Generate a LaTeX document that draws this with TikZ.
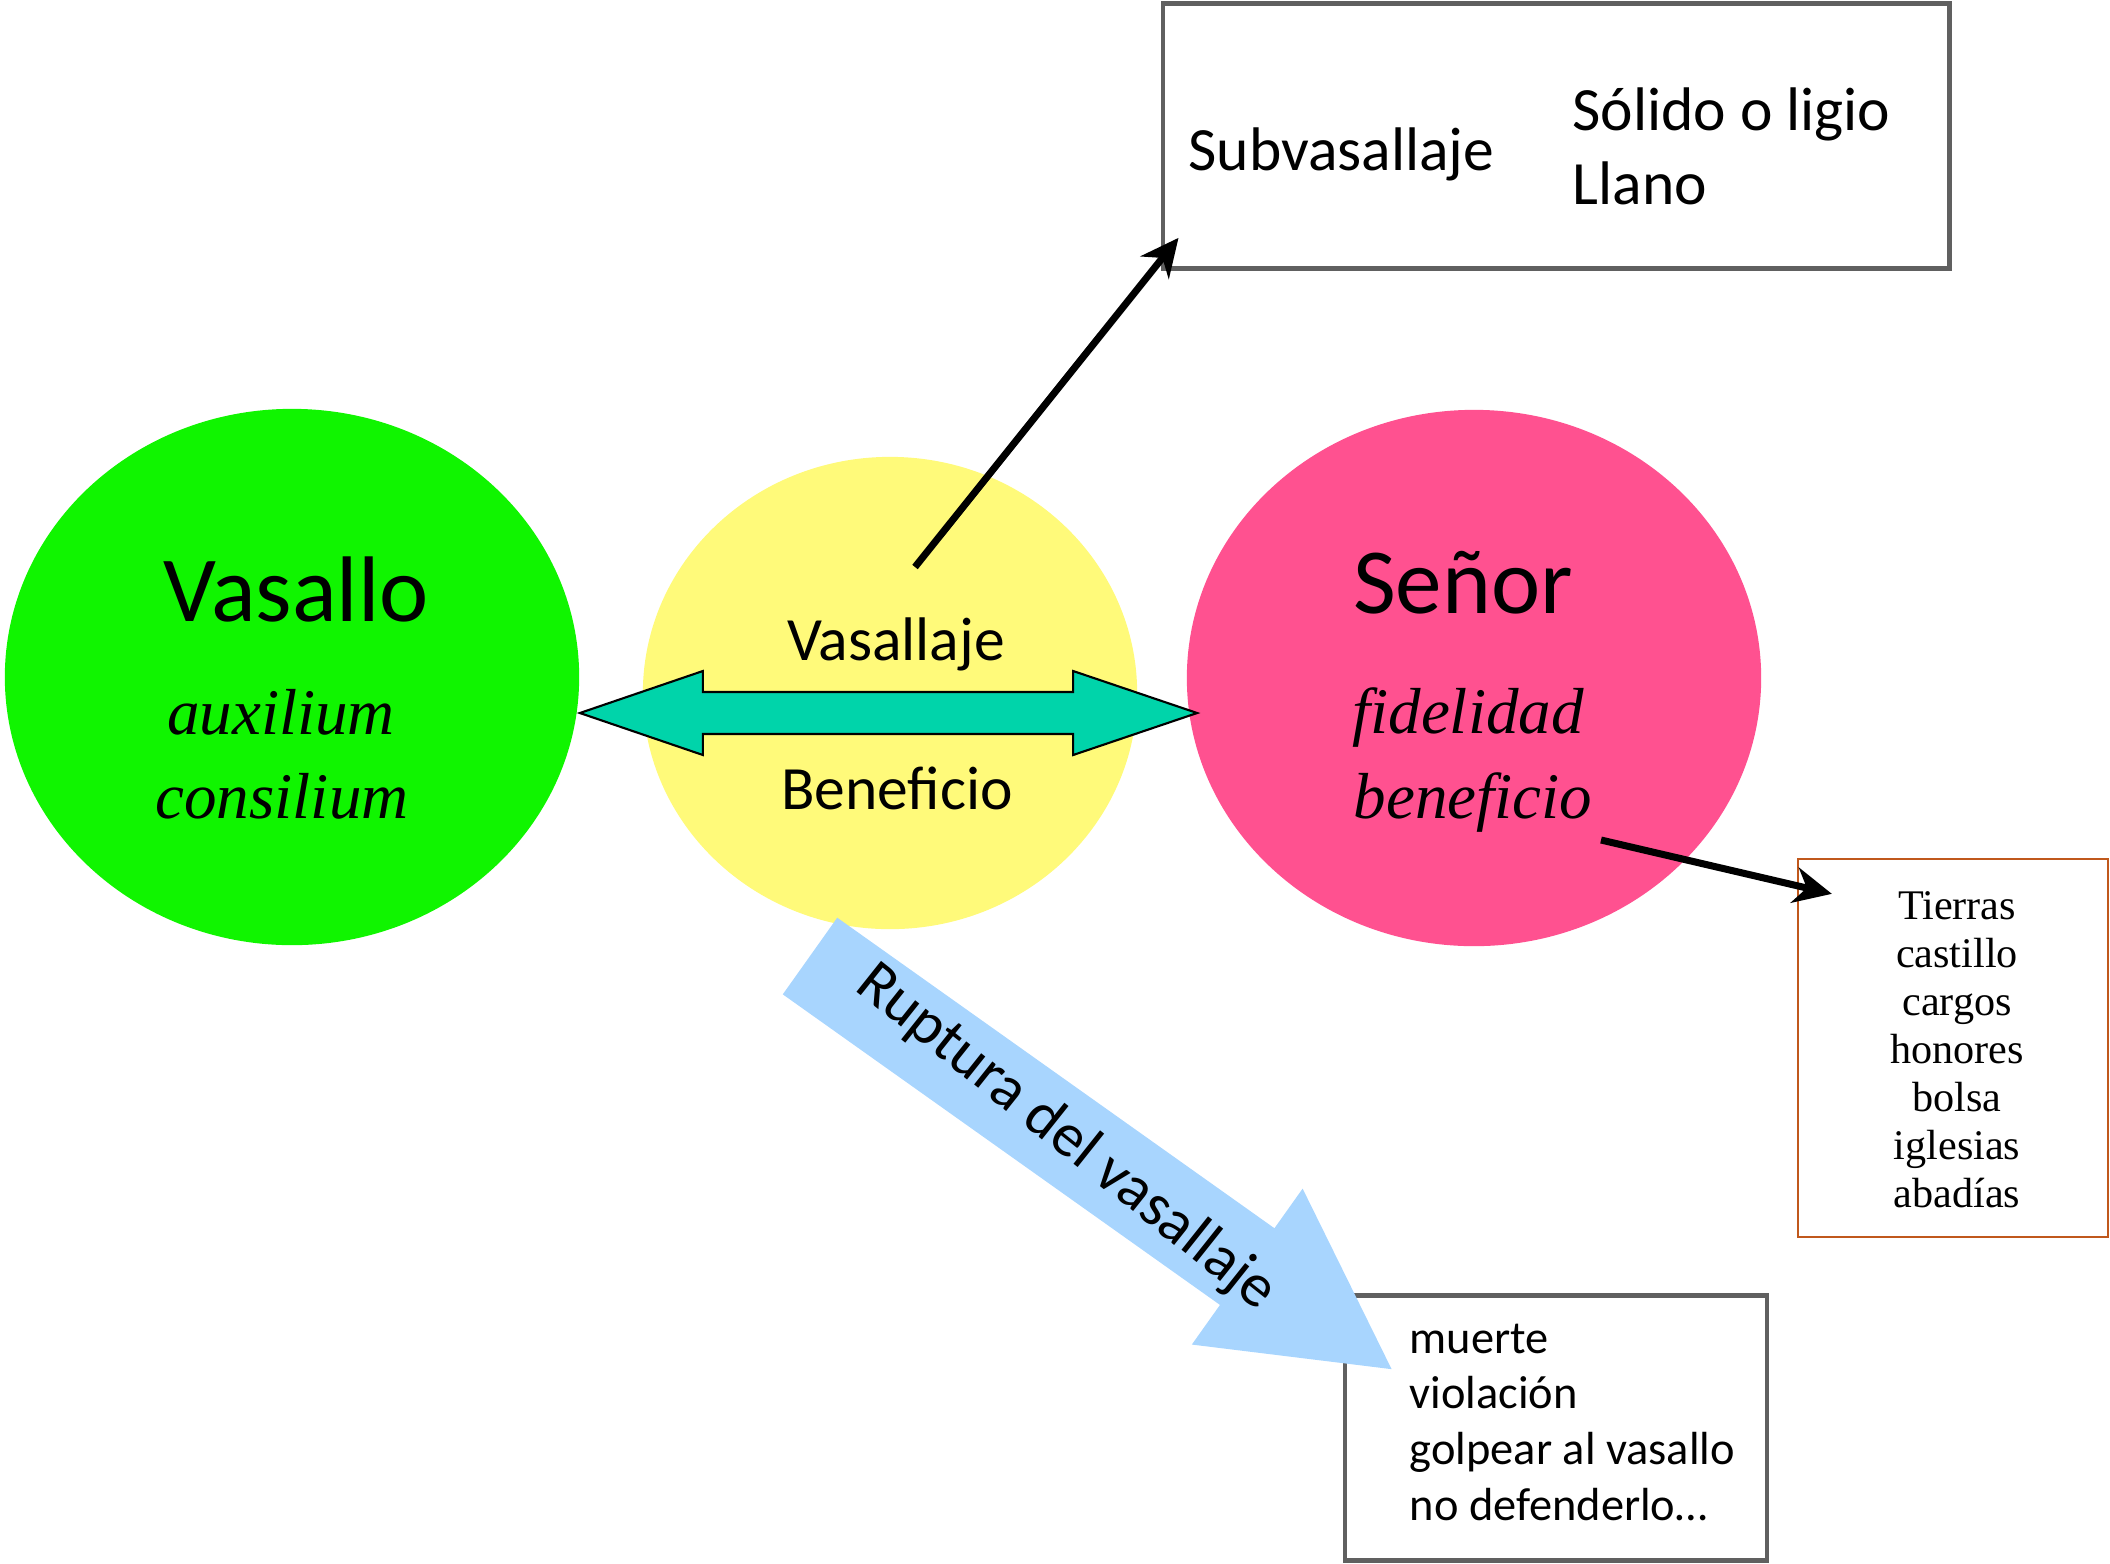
\documentclass[tikz,border=0pt]{standalone}
\usepackage{fontspec}
\setmainfont{Carlito}
\newfontfamily\timesfont{Liberation Serif}
\usetikzlibrary{shapes.geometric,arrows.meta,calc,positioning}

\definecolor{vgreen}{RGB}{16,245,0}
\definecolor{vyellow}{RGB}{255,250,122}
\definecolor{vpink}{RGB}{255,81,144}
\definecolor{vteal}{RGB}{0,212,170}
\definecolor{vblue}{RGB}{168,213,254}
\definecolor{vgray}{RGB}{96,96,96}
\definecolor{vbrown}{RGB}{192,88,28}

\tikzset{
  oval/.style={ellipse, draw=none, minimum width=5.74cm, minimum height=5.36cm},
  lbl/.style={inner sep=0pt, anchor=base},
  big/.style={lbl, font=\fontsize{26.5}{32}\selectfont},
  mid/.style={lbl, font=\fontsize{17.5}{21}\selectfont},
  small/.style={lbl, anchor=base west, font=\fontsize{13.2}{16}\selectfont},
  lat/.style={lbl, font=\timesfont\itshape\fontsize{18.5}{22}\selectfont},
  tier/.style={lbl, font=\timesfont\fontsize{12}{14}\selectfont},
  greybox/.style={draw=vgray, line width=1.3pt},
  link/.style={line width=2pt, -{Stealth[length=0.38cm, width=0.36cm]}},
}

\begin{document}
\begin{tikzpicture}[x=0.01cm, y=-0.01cm]
\useasboundingbox (0,0) rectangle (2110,1563);

\node[oval, fill=vgreen] (vasallo) at (292,677) {};
\node[oval, fill=vyellow, minimum width=4.94cm, minimum height=4.72cm] (pacto) at (890,693) {};
\node[oval, fill=vpink] (senor) at (1474,678) {};

\coordinate (dl) at ($(vasallo.east)+(0,36)$);
\coordinate (dr) at ($(senor.west)+(11,35)$);
\draw[fill=vteal, line width=0.6pt] (dl) -- ($(dl)+(123,-42)$) -- ($(dl)+(123,-21)$)
  -- ($(dr)+(-124,-21)$) -- ($(dr)+(-124,-42)$) -- (dr) -- ($(dr)+(-124,42)$)
  -- ($(dr)+(-124,21)$) -- ($(dl)+(123,21)$) -- ($(dl)+(123,42)$) -- cycle;

\node[big] (vasallot) at (296,621) {Vasallo};
\node[lat] (auxt) at (281,734) {auxilium};
\node[lat] (cont) at (282,818) {consilium};
\node[big] (senort) at (1463,613) {Señor};
\node[lat] (fidt) at (1468,733) {fidelidad};
\node[lat] (benft) at (1473,818) {beneficio};
\node[mid] (vasjt) at (896,660) {Vasallaje};
\node[mid] (benet) at (897,809) {Beneficio};

\node[greybox, minimum width=7.86cm, minimum height=2.65cm] (subbox) at (1556,136) {};
\node[mid, anchor=base west] (subt) at (1188,170) {Subvasallaje};
\node[mid, anchor=base west] (solt) at (1572,130) {Sólido o ligio};
\node[mid, anchor=base west] (llat) at (1572,204) {Llano};

\node[draw=vbrown, line width=0.6pt, minimum width=3.1cm, minimum height=3.78cm] (tierbox) at (1953,1048) {};
\foreach \w [count=\i from 0] in {Tierras,castillo,cargos,honores,bolsa,iglesias,abadías}
  \node[tier] (tier\i) at (1957,919+48*\i) {\w};

\node[greybox, minimum width=4.22cm, minimum height=2.65cm] (finbox) at (1556,1428) {};
\foreach \w [count=\i from 0] in {muerte,violación,golpear al vasallo,no defenderlo…}
  \node[small] (fin\i) at (1409,1353+55.7*\i) {\w};

\coordinate (rupA) at (810,956);
\coordinate (rupB) at ($(finbox.north west)+(49,76)$);
\coordinate (rupJ) at ($(rupA)!5.36cm!(rupB)$);
\fill[vblue] ($(rupA)!0.47cm!90:(rupB)$) -- ($(rupJ)!0.47cm!90:(rupB)$)
  -- ($(rupJ)!0.956cm!90:(rupB)$) -- (rupB) -- ($(rupJ)!0.956cm!-90:(rupB)$)
  -- ($(rupJ)!0.47cm!-90:(rupB)$) -- ($(rupA)!0.47cm!-90:(rupB)$) -- cycle;
\node[mid, anchor=center, rotate=-38.5] (rupt) at ($(rupA)!0.44!(rupB)$) {Ruptura del vasallaje};

\coordinate (s1) at ($(pacto.center)+(25,-126)$);
\draw[link] (s1) -- ($(subbox.south west)+(18,-33)$);
\coordinate (s2) at ($(senor.center)+(127,162)$);
\draw[link] (s2) -- ($(tierbox.north west)+(35,36)$);
\end{tikzpicture}
\end{document}
